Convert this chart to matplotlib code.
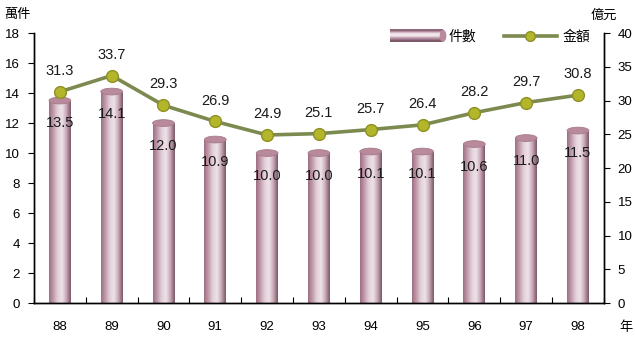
import numpy as np
import matplotlib
matplotlib.use("Agg")
import matplotlib.pyplot as plt
from matplotlib.colors import LinearSegmentedColormap
from matplotlib.patches import Ellipse, Rectangle
from matplotlib.lines import Line2D
from matplotlib.legend_handler import HandlerBase

plt.rcParams['font.family'] = ['Liberation Sans', 'Noto Sans CJK TC', 'DejaVu Sans']

# data
years = ["88", "89", "90", "91", "92", "93", "94", "95", "96", "97", "98"]
cases = [13.5, 14.1, 12.0, 10.9, 10.0, 10.0, 10.1, 10.1, 10.6, 11.0, 11.5]   # 萬件
amount = [31.3, 33.7, 29.3, 26.9, 24.9, 25.1, 25.7, 26.4, 28.2, 29.7, 30.8]  # 億元

bar_cmap = LinearSegmentedColormap.from_list(
    "cyl", ["#9c6f81", "#c29cad", "#e4d1da", "#eee2e8", "#c8a8b6", "#7a5767"])
top_color = "#b98a9c"
line_color = "#7c8a50"
marker_face = "#b3b52a"
marker_edge = "#8e9024"

fig = plt.figure(figsize=(6.35, 3.43), dpi=100)
ax = fig.add_axes([0.0535, 0.1166, 0.8975, 0.787])
ax2 = ax.twinx()

x = np.arange(len(years))
bw = 0.42
bars = ax.bar(x, cases, width=bw, color="none", edgecolor="none", zorder=2)
grad = np.linspace(0, 1, 64).reshape(1, -1)
for rect, h in zip(bars, cases):
    x0 = rect.get_x()
    im = ax.imshow(grad, cmap=bar_cmap, aspect="auto", extent=(x0, x0 + bw, 0, h),
                   zorder=2, interpolation="bicubic")
    im.set_clip_path(rect)
    ax.add_patch(Ellipse((x0 + bw / 2, h), bw, 0.45, facecolor=top_color,
                         edgecolor="#a57a8b", lw=0.6, zorder=3))
    ax.text(x0 + bw / 2, h - 1.5, f"{h:.1f}", ha="center", va="center",
            fontsize=10.5, color="#1a1a1a", zorder=4)

ax.set_xlim(-0.5, len(years) - 0.5)
ax.set_ylim(0, 18)
ax.set_yticks(np.arange(0, 19, 2))
ax2.set_ylim(0, 40)
ax2.set_yticks(np.arange(0, 41, 5))

ax2.plot(x, amount, color=line_color, lw=2.6, marker="o", markersize=8.5,
         markerfacecolor=marker_face, markeredgecolor=marker_edge, markeredgewidth=1,
         zorder=5)
for xi, v in zip(x, amount):
    ax2.annotate(f"{v:.1f}", (xi, v), xytext=(0, 15), textcoords="offset points",
                 ha="center", va="center", fontsize=10.5, color="#1a1a1a")

ax.set_xticks(x)
ax.set_xticklabels(years)
ax.set_xticks(np.arange(-0.5, len(years), 1.0), minor=True)
ax.tick_params(axis="x", which="major", length=0, pad=13, labelsize=9.5)
ax.tick_params(axis="x", which="minor", direction="in", length=4, width=0.8)
ax.tick_params(axis="y", direction="out", length=4, width=0.8, labelsize=9.5, pad=6)
ax2.tick_params(axis="y", direction="out", length=4, width=0.8, labelsize=9.5, pad=6)

for a in (ax, ax2):
    a.spines["top"].set_visible(False)
    for s in ("left", "right", "bottom"):
        a.spines[s].set_linewidth(1)
        a.spines[s].set_color("black")

fig.text(0.006, 0.955, "萬件", fontsize=9.5, ha="left", va="center")
fig.text(0.93, 0.955, "億元", fontsize=9.5, ha="left", va="center")
fig.text(0.975, 0.045, "年", fontsize=9.5, ha="left", va="center")


class CylinderHandler(HandlerBase):
    def create_artists(self, legend, orig_handle, xdescent, ydescent, width, height,
                       fontsize, trans):
        arts = []
        cols = ["#8c6878", "#b08a9b", "#d2b8c5", "#eadde3", "#f0e6ea",
                "#e0cdd6", "#c8a8b6", "#b08a9b", "#98748a", "#7d5b6a"]
        n = len(cols)
        h = height * 1.25
        y0 = -ydescent + (height - h) / 2
        for i in range(n):
            r = Rectangle((-xdescent, y0 + h * (n - 1 - i) / n), width, h / n + 0.2,
                          facecolor=cols[i], edgecolor="none", transform=trans)
            arts.append(r)
        e = Ellipse((-xdescent + width, y0 + h / 2), h * 0.55, h,
                    facecolor=top_color, edgecolor="none", transform=trans)
        arts.append(e)
        return arts


bar_handle = Rectangle((0, 0), 1, 1)
line_handle = Line2D([], [], color=line_color, lw=2.6, marker="o", markersize=7,
                     markerfacecolor=marker_face, markeredgecolor=marker_edge)
fig.legend([bar_handle, line_handle], ["件數", "金額"], ncol=2, frameon=False,
           loc="center", bbox_to_anchor=(0.772, 0.893), fontsize=10,
           handlelength=3.8, handletextpad=0.4, columnspacing=2.0,
           handler_map={Rectangle: CylinderHandler()})

fig.savefig("out.png", dpi=100)
